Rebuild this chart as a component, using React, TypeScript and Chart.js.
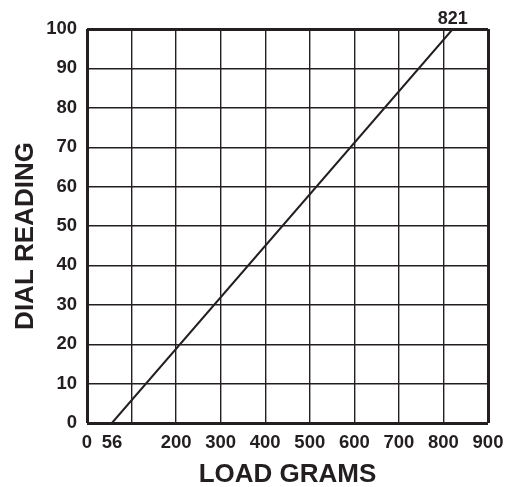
import React, { useEffect, useRef } from "react";
import { Chart, registerables } from "chart.js";

Chart.register(...registerables);

const loadGrams = [56, 821];
const dialReading = [0, 100];
const xTickValues = [0, 56, 100, 200, 300, 400, 500, 600, 700, 800, 900];
const xHiddenLabels = [100];
const xGridSkip = [56];
const yTickStep = 10;
const annotatedValues = [821];
const xTitle = "LOAD GRAMS";
const yTitle = "DIAL READING";

const INK = "#231f20";
const FONT = "'Liberation Sans', Arial, Helvetica, sans-serif";

const labelPlugin = {
  id: "endLabel",
  afterDraw(chart: any) {
    const { ctx, chartArea, scales } = chart;
    ctx.save();
    ctx.fillStyle = INK;
    ctx.font = `bold 18px ${FONT}`;
    ctx.textAlign = "center";
    ctx.textBaseline = "alphabetic";
    annotatedValues.forEach((v) => {
      const x = scales.x.getPixelForValue(v);
      ctx.fillText(String(v), x, chartArea.top - 5.5);
    });
    // vertical axis title, centred slightly below the plot centre as in the reference
    ctx.font = `bold 26px ${FONT}`;
    ctx.translate(33, (chartArea.top + chartArea.bottom) / 2 + 10);
    ctx.rotate(-Math.PI / 2);
    ctx.textBaseline = "alphabetic";
    ctx.fillText(yTitle, 0, 0);
    ctx.restore();
  },
};

export default function App() {
  const ref = useRef<HTMLCanvasElement | null>(null);
  useEffect(() => {
    document.body.style.margin = "0";
    const canvas = ref.current;
    if (!canvas) return;
    const chart = new Chart(canvas, {
      type: "line",
      data: {
        datasets: [
          {
            data: loadGrams.map((x, i) => ({ x, y: dialReading[i] })),
            borderColor: INK,
            borderWidth: 2,
            pointRadius: 0,
            fill: false,
            tension: 0,
          },
        ],
      },
      options: {
        animation: false,
        responsive: false,
        devicePixelRatio: 1,
        layout: { padding: { top: 29, right: 26, left: 0, bottom: 0 } },
        plugins: { legend: { display: false }, tooltip: { enabled: false } },
        scales: {
          x: {
            type: "linear",
            min: 0,
            max: 900,
            afterFit(scale: any) {
              scale.height = 64;
            },
            afterBuildTicks(scale: any) {
              scale.ticks = xTickValues.map((value) => ({ value }));
            },
            border: { display: false },
            grid: {
              drawTicks: false,
              color: (c: any) =>
                c.tick && xGridSkip.includes(c.tick.value) ? "rgba(0,0,0,0)" : INK,
              lineWidth: (c: any) =>
                c.tick && (c.tick.value === 0 || c.tick.value === 900) ? 3 : 1.4,
            },
            ticks: {
              padding: 9,
              color: INK,
              font: { family: FONT, size: 18.5, weight: "bold" },
              maxRotation: 0,
              autoSkip: false,
              callback: (v: any) => (xHiddenLabels.includes(Number(v)) ? "" : String(v)),
            },
            title: {
              display: true,
              text: xTitle,
              color: INK,
              font: { family: FONT, size: 26, weight: "bold" },
              padding: { top: 0, bottom: -3 },
            },
          },
          y: {
            type: "linear",
            min: 0,
            max: 100,
            afterFit(scale: any) {
              scale.width = 87;
            },
            border: { display: false },
            grid: {
              drawTicks: false,
              color: INK,
              lineWidth: (c: any) =>
                c.tick && (c.tick.value === 0 || c.tick.value === 100) ? 3 : 1.4,
            },
            ticks: {
              stepSize: yTickStep,
              padding: 10,
              color: INK,
              font: { family: FONT, size: 18.5, weight: "bold" },
            },
            title: { display: false },
          },
        },
      },
      plugins: [labelPlugin],
    } as any);
    return () => chart.destroy();
  }, []);
  return (
    <div style={{ width: 514, height: 487 }}>
      <canvas ref={ref} width={514} height={487} />
    </div>
  );
}
